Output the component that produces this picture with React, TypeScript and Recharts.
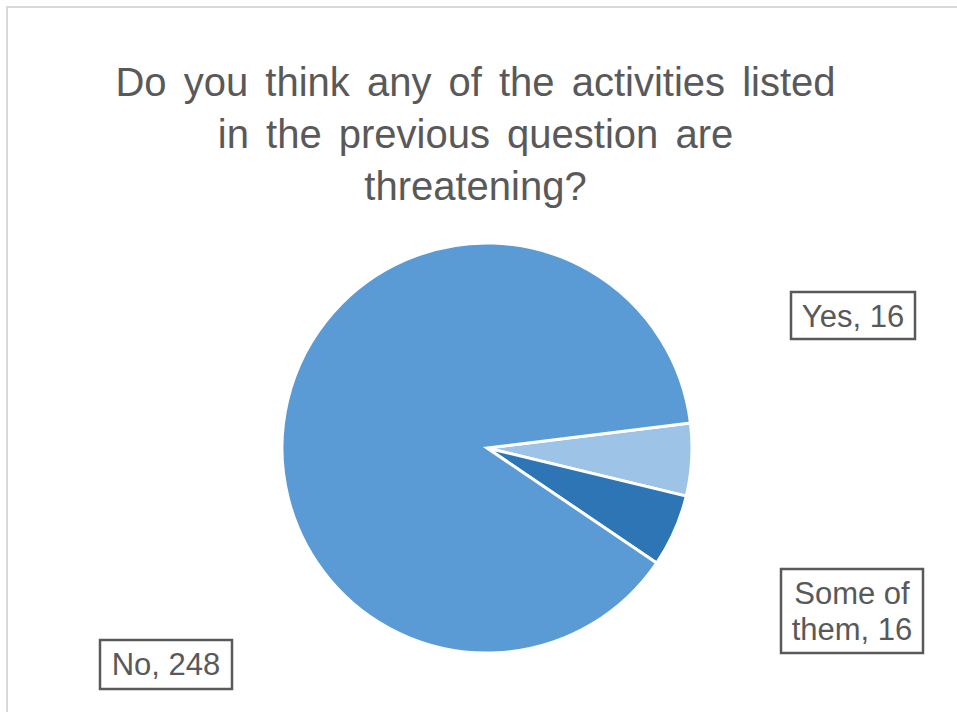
import { PieChart, Pie, Cell } from 'recharts';

const categories = ['Yes', 'Some of them', 'No'];
const counts = [16, 16, 248];
const sliceColors = ['#9DC3E6', '#2E75B6', '#5B9BD5'];
const titleLines = [
  'Do you think any of the activities listed',
  'in the previous question are',
  'threatening?',
];

const data = categories.map((name, i) => ({ name, value: counts[i] }));

// label boxes, placed relative to the pie centre (moved by hand in the original)
const labelBoxes = [
  { dx: 304, dy: -156, w: 124, h: 47, lines: ['Yes, 16'] },
  { dx: 294, dy: 121, w: 142, h: 84, lines: ['Some of', 'them, 16'] },
  { dx: -387, dy: 192, w: 132, h: 49, lines: ['No, 248'] },
];

const textColor = '#595959';

const renderLabel = (props: any) => {
  const { cx, cy, index } = props;
  const box = labelBoxes[index];
  const x = cx + box.dx;
  const y = cy + box.dy;
  return (
    <g key={`lbl-${index}`}>
      <rect x={x} y={y} width={box.w} height={box.h} fill="#fff" stroke={textColor} strokeWidth={2.5} />
      {box.lines.map((line, i) => (
        <text
          key={i}
          x={x + box.w / 2}
          y={y + 35 + i * 36}
          textAnchor="middle"
          fill={textColor}
          fontSize={31}
          fontFamily="'Liberation Sans', Arial, sans-serif"
        >
          {line}
        </text>
      ))}
    </g>
  );
};

const App = () => {
  return (
    <div style={{ position: 'fixed', left: 0, top: 0, width: 957, height: 712, overflow: 'hidden', background: '#fff' }}>
      <div
        style={{
          position: 'absolute',
          left: 6,
          top: 6,
          width: 1200,
          height: 1200,
          border: '2.5px solid #d9d9d9',
        }}
      />
      <div
        style={{
          position: 'absolute',
          left: 0,
          top: 56,
          width: 951,
          textAlign: 'center',
          color: textColor,
          fontFamily: "'Liberation Sans', Arial, sans-serif",
          fontSize: 40,
          lineHeight: '52px',
          wordSpacing: 6,
        }}
      >
        {titleLines.map((line) => (
          <div key={line}>{line}</div>
        ))}
      </div>
      <div style={{ position: 'absolute', left: 0, top: 0 }}>
        <PieChart width={957} height={712} margin={{ top: 0, right: 0, bottom: 0, left: 0 }}>
          <Pie
            data={data}
            dataKey="value"
            nameKey="name"
            cx={487}
            cy={448}
            outerRadius={205}
            startAngle={7}
            endAngle={-353}
            stroke="#fff"
            strokeWidth={3}
            label={renderLabel}
            labelLine={false}
            isAnimationActive={false}
          >
            {data.map((entry, index) => (
              <Cell key={`cell-${index}`} fill={sliceColors[index]} />
            ))}
          </Pie>
        </PieChart>
      </div>
    </div>
  );
};

export default App;
